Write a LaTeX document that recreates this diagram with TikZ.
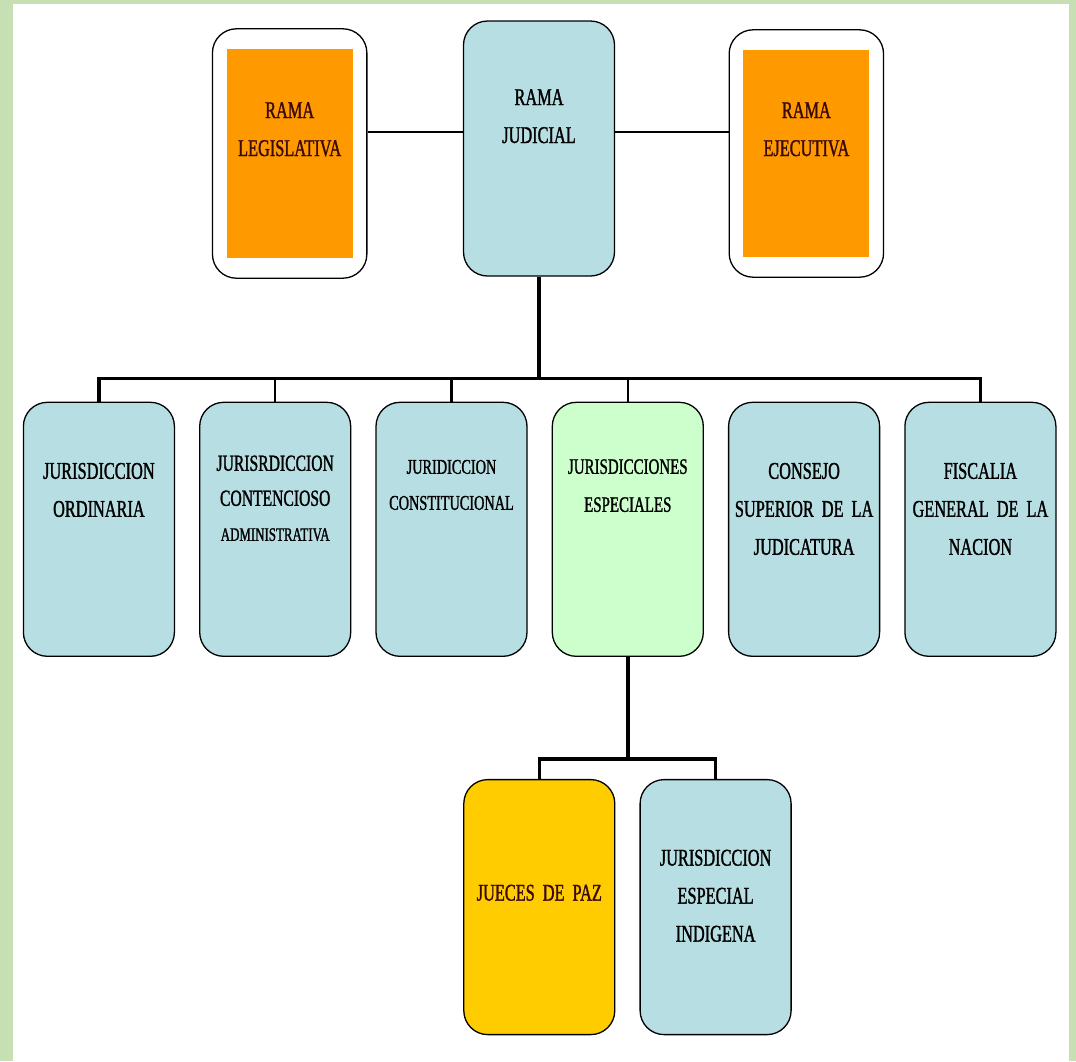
\documentclass[tikz,border=0pt]{standalone}
\usepackage{fontspec}
\setmainfont{Liberation Serif}[FakeStretch=0.68, FakeBold=1.2, WordSpace=0.55]
\usetikzlibrary{positioning, fit}
\definecolor{framegreen}{HTML}{C6E0B4}
\definecolor{paleblue}{HTML}{B7DEE2}
\definecolor{palegreen}{HTML}{CCFFCC}
\definecolor{branchorange}{HTML}{FF9900}
\definecolor{pazgold}{HTML}{FFCC00}
\definecolor{darkmaroon}{HTML}{3A0A0A}

\begin{document}
\begin{tikzpicture}[
    every node/.style={align=center, inner sep=0pt, text width=150pt, font=\fontsize{24}{38}\selectfont},
    bluebox/.style={draw=black, line width=1.3pt, rounded corners=24pt, fill=paleblue, text=black, minimum width=151pt},
    greenbox/.style={bluebox, fill=palegreen},
    goldbox/.style={bluebox, fill=pazgold, text=darkmaroon},
    orangebox/.style={fill=branchorange, text=darkmaroon, minimum width=126pt, text width=124pt},
    framebox/.style={draw=black, line width=1.3pt, rounded corners=24pt, text width=1pt, inner xsep=14pt, inner ysep=20pt},
    link/.style={draw=black, line width=1.8pt},
    bus/.style={draw=black, line width=3.5pt},
    drop/.style={draw=black, line width=2.5pt}
]
% frame
\useasboundingbox (0,0) rectangle (1076pt,-1061pt);
\fill[framegreen] (0,0) rectangle (1076pt,-1061pt);
\fill[white] (13pt,-4pt) rectangle (1069pt,-1061pt);

% top row
\node[bluebox, text height=84pt, text depth=171pt] (judicial) at (539pt,-148.5pt) {RAMA\\JUDICIAL};
\node[orangebox, text height=69pt, text depth=140pt, left=110pt of judicial, yshift=-5pt] (legislativa) {RAMA\\LEGISLATIVA};
\node[orangebox, text height=68pt, text depth=139pt, right=128pt of judicial, yshift=-5pt] (ejecutiva) {RAMA\\EJECUTIVA};
\node[framebox, fit=(legislativa)] (legframe) {};
\node[framebox, fit=(ejecutiva)] (ejeframe) {};

% jurisdicciones
\node[bluebox, text height=71.5pt, text depth=182.5pt, below=125pt of judicial, xshift=-87.5pt, font=\fontsize{21}{36}\selectfont] (constitucional) {JURIDICCION\\CONSTITUCIONAL};
\node[bluebox, text height=68.5pt, text depth=185.5pt, left=24pt of constitucional, font=\fontsize{23}{35}\selectfont] (contencioso) {JURISRDICCION\\CONTENCIOSO\\{\fontsize{19}{35}\selectfont ADMINISTRATIVA}};
\node[bluebox, text height=76.5pt, text depth=177.5pt, left=24pt of contencioso] (ordinaria) {JURISDICCION\\ORDINARIA};
\node[greenbox, text height=71.5pt, text depth=182.5pt, right=24pt of constitucional, font=\fontsize{22}{38}\selectfont] (especiales) {JURISDICCIONES\\ESPECIALES};
\node[bluebox, text height=76.5pt, text depth=177.5pt, right=24pt of especiales] (consejo) {CONSEJO\\SUPERIOR DE LA\\JUDICATURA};
\node[bluebox, text height=76.5pt, text depth=177.5pt, right=24pt of consejo] (fiscalia) {FISCALIA\\GENERAL DE LA\\NACION};

% especiales
\node[goldbox, text height=121pt, text depth=134pt, below=122pt of especiales, xshift=-88.5pt] (jueces) {JUECES DE PAZ};
\node[bluebox, text height=86pt, text depth=169pt, right=24pt of jueces] (indigena) {JURISDICCION\\ESPECIAL\\INDIGENA};

% connectors
\draw[link] ([yshift=16.5pt]judicial.west) -- ([yshift=16.5pt]judicial.west -| legframe.east);
\draw[link] ([yshift=16.5pt]judicial.east) -- ([yshift=16.5pt]judicial.east -| ejeframe.west);

\coordinate[above=23pt of ordinaria] (busleft);
\draw[bus] (ordinaria.north) -- (busleft) -| (fiscalia.north);
\draw[bus] (judicial.south) -- (judicial.south |- busleft);
\draw[drop] (contencioso.north) -- (contencioso.north |- busleft);
\draw[drop] (constitucional.north) -- (constitucional.north |- busleft);
\draw[drop] (especiales.north) -- (especiales.north |- busleft);

\coordinate[above=20pt of jueces] (subleft);
\draw[bus] (jueces.north) -- (subleft) -| (indigena.north);
\draw[bus] (especiales.south) -- (especiales.south |- subleft);
\end{tikzpicture}
\end{document}
